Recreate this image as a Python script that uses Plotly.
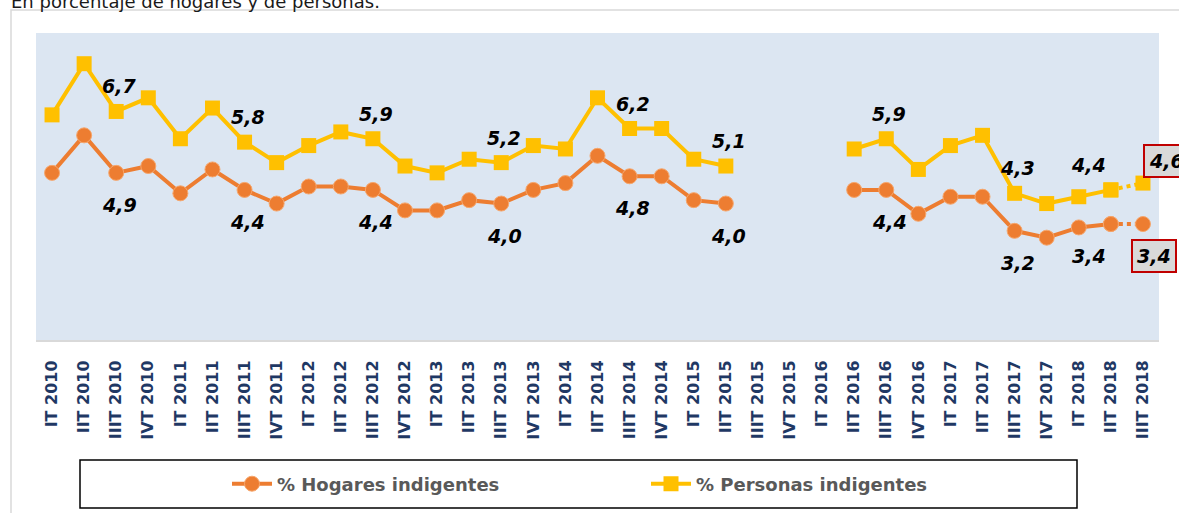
import plotly.graph_objects as go

# ---------------- data ----------------
categories = [
    "IT 2010", "IIT 2010", "IIIT 2010", "IVT 2010",
    "IT 2011", "IIT 2011", "IIIT 2011", "IVT 2011",
    "IT 2012", "IIT 2012", "IIIT 2012", "IVT 2012",
    "IT 2013", "IIT 2013", "IIIT 2013", "IVT 2013",
    "IT 2014", "IIT 2014", "IIIT 2014", "IVT 2014",
    "IT 2015", "IIT 2015", "IIIT 2015", "IVT 2015",
    "IT 2016", "IIT 2016", "IIIT 2016", "IVT 2016",
    "IT 2017", "IIT 2017", "IIIT 2017", "IVT 2017",
    "IT 2018", "IIT 2018", "IIIT 2018",
]

hogares = [
    4.9, 6.0, 4.9, 5.1,
    4.3, 5.0, 4.4, 4.0,
    4.5, 4.5, 4.4, 3.8,
    3.8, 4.1, 4.0, 4.4,
    4.6, 5.4, 4.8, 4.8,
    4.1, 4.0, None, None,
    None, 4.4, 4.4, 3.7,
    4.2, 4.2, 3.2, 3.0,
    3.3, 3.4, 3.4,
]

personas = [
    6.6, 8.1, 6.7, 7.1,
    5.9, 6.8, 5.8, 5.2,
    5.7, 6.1, 5.9, 5.1,
    4.9, 5.3, 5.2, 5.7,
    5.6, 7.1, 6.2, 6.2,
    5.3, 5.1, None, None,
    None, 5.6, 5.9, 5.0,
    5.7, 6.0, 4.3, 4.0,
    4.2, 4.4, 4.6,
]

series_names = ["% Hogares indigentes", "% Personas indigentes"]

# categories whose values carry a data label
labeled_categories = ["IIIT 2010", "IIIT 2011", "IIIT 2012", "IIIT 2013",
                      "IIIT 2014", "IIT 2015", "IIIT 2016", "IIIT 2017", "IIT 2018"]
highlighted_category = "IIIT 2018"

title_text = "En porcentaje de hogares y de personas."

# ---------------- styling ----------------
C_HOG = "#ED7D31"
C_PER = "#FFC000"
FONT = "DejaVu Sans"
W, H = 1179, 513
ML, MR, MT, MB = 36, 20, 33, 173
PW, PH = W - ML - MR, H - MT - MB


def px_to_paper(px, py):
    return (px - ML) / PW, (H - MB - py) / PH


def fmt(v):
    return f"{v:.1f}".replace(".", ",")


fig = go.Figure()

# solid series (all but the last quarter)
fig.add_trace(go.Scatter(
    x=categories[:-1], y=hogares[:-1], name=series_names[0],
    mode="lines+markers",
    line=dict(color=C_HOG, width=4),
    marker=dict(symbol="circle", size=15, color=C_HOG,
                line=dict(color="#F6A66C", width=1)),
    connectgaps=False,
))
fig.add_trace(go.Scatter(
    x=categories[:-1], y=personas[:-1], name=series_names[1],
    mode="lines+markers",
    line=dict(color=C_PER, width=4),
    marker=dict(symbol="square", size=15, color=C_PER),
    connectgaps=False,
))
# dotted link to last (preliminary) quarter
fig.add_trace(go.Scatter(
    x=categories[-2:], y=hogares[-2:], mode="lines+markers",
    line=dict(color=C_HOG, width=4, dash="dot"),
    marker=dict(symbol="circle", size=15, color=C_HOG,
                line=dict(color="#F6A66C", width=1)),
    showlegend=False,
))
fig.add_trace(go.Scatter(
    x=categories[-2:], y=personas[-2:], mode="lines+markers",
    line=dict(color=C_PER, width=4, dash="dot"),
    marker=dict(symbol="square", size=15, color=C_PER),
    showlegend=False,
))

annotations = []
label_font = dict(family=FONT, size=19, color="#000000")
for cat in labeled_categories:
    i = categories.index(cat)
    xs = -22 if cat == "IIT 2018" else 3
    annotations.append(dict(
        x=cat, y=personas[i], xref="x", yref="y",
        text=f"<b><i>{fmt(personas[i])}</i></b>", showarrow=False,
        xshift=xs, yshift=25, font=label_font))
    annotations.append(dict(
        x=cat, y=hogares[i], xref="x", yref="y",
        text=f"<b><i>{fmt(hogares[i])}</i></b>", showarrow=False,
        xshift=xs, yshift=-32, font=label_font))

# highlighted (boxed) last values
i = categories.index(highlighted_category)
box_font = dict(family=FONT, size=19, color="#000000")
annotations.append(dict(
    x=highlighted_category, y=personas[i], xref="x", yref="y",
    text=f"<b><i>{fmt(personas[i])}</i></b>", showarrow=False,
    xshift=24, yshift=22, font=box_font,
    bgcolor="#D9D9D9", bordercolor="#C00000", borderwidth=2, borderpad=4))
annotations.append(dict(
    x=highlighted_category, y=hogares[i], xref="x", yref="y",
    text=f"<b><i>{fmt(hogares[i])}</i></b>", showarrow=False,
    xshift=11, yshift=-32, font=box_font,
    bgcolor="#D9D9D9", bordercolor="#C00000", borderwidth=2, borderpad=4))

# cut-off subtitle at the very top
tx, ty = px_to_paper(9, 14)
annotations.append(dict(
    x=tx, y=ty, xref="paper", yref="paper", xanchor="left", yanchor="bottom",
    text=title_text, showarrow=False,
    font=dict(family=FONT, size=18, color="#1A1A1A")))

# frame + legend box
fx0, fy0 = px_to_paper(11, 10)
fx1, fy1 = px_to_paper(1200, 540)
lx0, ly0 = px_to_paper(80, 460)
lx1, ly1 = px_to_paper(1077, 508)
shapes = [
    dict(type="rect", xref="paper", yref="paper", x0=fx0, y0=fy0, x1=fx1, y1=fy1,
         line=dict(color="#D9D9D9", width=1.5), fillcolor="rgba(0,0,0,0)", layer="below"),
    dict(type="rect", xref="paper", yref="paper", x0=lx0, y0=ly0, x1=lx1, y1=ly1,
         line=dict(color="#000000", width=1.5), fillcolor="rgba(0,0,0,0)"),
]

legx, legy = px_to_paper(227, 484)

fig.update_layout(
    width=W, height=H,
    margin=dict(l=ML, r=MR, t=MT, b=MB, autoexpand=False),
    paper_bgcolor="#FFFFFF",
    plot_bgcolor="#DCE6F2",
    showlegend=True,
    legend=dict(
        orientation="h", x=legx, y=legy, xanchor="left", yanchor="middle",
        font=dict(family=FONT, size=18, color="#595959", weight="bold"),
        entrywidth=364, itemwidth=40, bgcolor="rgba(0,0,0,0)", borderwidth=0,
    ),
    xaxis=dict(
        type="category", categoryorder="array", categoryarray=categories,
        range=[-0.5, len(categories) - 0.5],
        tickangle=-90, showgrid=False, zeroline=False,
        showline=True, linecolor="#D9D9D9", linewidth=2,
        ticks="", ticklabelstandoff=12,
        tickfont=dict(family=FONT, size=16, color="#1F3864", weight="bold"),
    ),
    yaxis=dict(range=[0, 9], visible=False, showgrid=False, zeroline=False),
    annotations=annotations,
    shapes=shapes,
)

fig.write_html(
    "out.html",
    config={"displayModeBar": False},
    post_script="document.body.style.margin='0';document.body.style.padding='0';",
)
